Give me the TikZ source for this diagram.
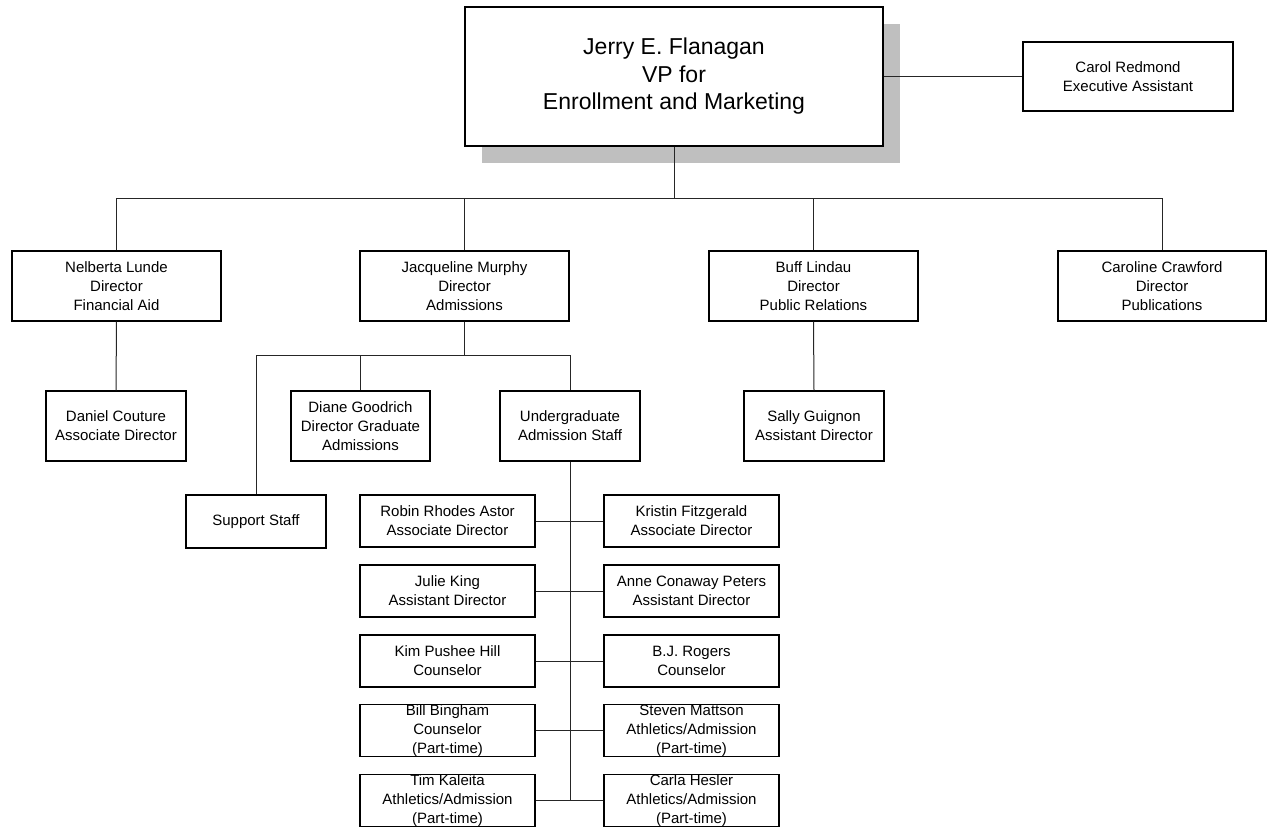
\documentclass[tikz,border=0pt]{standalone}
\usepackage{fontspec}
\setmainfont{Liberation Sans}
\begin{document}
\begin{tikzpicture}[x=1pt,y=-1pt,
  box/.style={draw=black,line width=1.2pt,fill=white,rectangle,inner sep=0pt,
    align=center,font=\fontsize{15}{19}\selectfont},
  lvl2/.style={box,minimum width=209pt,minimum height=70pt},
  lvl3/.style={box,minimum width=140pt,minimum height=70pt},
  staff/.style={box,minimum width=175pt,minimum height=52pt},
  link/.style={draw=black!85,line width=1pt}]
\useasboundingbox (0,0) rectangle (1267,834);

% top box with its drop shadow
\fill[black!25] (482,24) rectangle (900,163);
\node[box,minimum width=418pt,minimum height=139pt,
  font=\fontsize{23}{27.5}\selectfont] (vp) at (674,76.5)
  {Jerry E. Flanagan\\VP for\\Enrollment and Marketing};

\node[box,minimum width=210pt,minimum height=69pt] (carol) at (1128,76.5)
  {Carol Redmond\\Executive Assistant};

% directors
\node[lvl2] (nel)  at (116.5,286) {Nelberta Lunde\\Director\\Financial Aid};
\node[lvl2] (jac)  at (464.5,286) {Jacqueline Murphy\\Director\\Admissions};
\node[lvl2] (buff) at (813.5,286) {Buff Lindau\\Director\\Public Relations};
\node[lvl2,minimum width=208pt] (car) at (1162,286) {Caroline Crawford\\Director\\Publications};

% second level
\node[lvl3] (dan)   at (116,426)   {Daniel Couture\\Associate Director};
\node[lvl3,minimum width=139pt] (diane) at (360.5,426) {Diane Goodrich\\Director Graduate\\Admissions};
\node[lvl3] (ug)    at (570,426)   {Undergraduate\\Admission Staff};
\node[lvl3] (sally) at (814,426)   {Sally Guignon\\Assistant Director};
\node[box,minimum width=140pt,minimum height=53pt] (sup) at (256,521.5) {Support Staff};

% undergraduate admission staff
\node[staff] (r1l) at (447.5,521)   {Robin Rhodes Astor\\Associate Director};
\node[staff] (r1r) at (691.5,521)   {Kristin Fitzgerald\\Associate Director};
\node[staff] (r2l) at (447.5,591)   {Julie King\\Assistant Director};
\node[staff] (r2r) at (691.5,591)   {Anne Conaway Peters\\Assistant Director};
\node[staff] (r3l) at (447.5,661)   {Kim Pushee Hill\\Counselor};
\node[staff] (r3r) at (691.5,661)   {B.J. Rogers\\Counselor};
\node[staff] (r4l) at (447.5,730.5) {Bill Bingham\\Counselor\\(Part-time)};
\node[staff] (r4r) at (691.5,730.5) {Steven Mattson\\Athletics/Admission\\(Part-time)};
\node[staff] (r5l) at (447.5,800.5) {Tim Kaleita\\Athletics/Admission\\(Part-time)};
\node[staff] (r5r) at (691.5,800.5) {Carla Hesler\\Athletics/Admission\\(Part-time)};

% connectors
\coordinate (busA) at (674,199);
\coordinate (busB) at (464.5,356);

\path[link] (vp.east) -- (carol.west);
\path[link] (vp.south) -- (busA);
\path[link] (nel.north) |- (busA);
\path[link] (jac.north) |- (busA);
\path[link] (buff.north) |- (busA);
\path[link] (car.north) |- (busA);
\path[link] (nel.south) -- (dan.north);
\path[link] (buff.south) -- (sally.north);
\path[link] (jac.south) -- (busB);
\path[link] (sup.north) |- (busB);
\path[link] (diane.north) |- (busB);
\path[link] (ug.north) |- (busB);
\path[link] (ug.south) -- (ug.south |- r5l.east);
\path[link] (r1l.east) -- (r1r.west);
\path[link] (r2l.east) -- (r2r.west);
\path[link] (r3l.east) -- (r3r.west);
\path[link] (r4l.east) -- (r4r.west);
\path[link] (r5l.east) -- (r5r.west);
\end{tikzpicture}
\end{document}
